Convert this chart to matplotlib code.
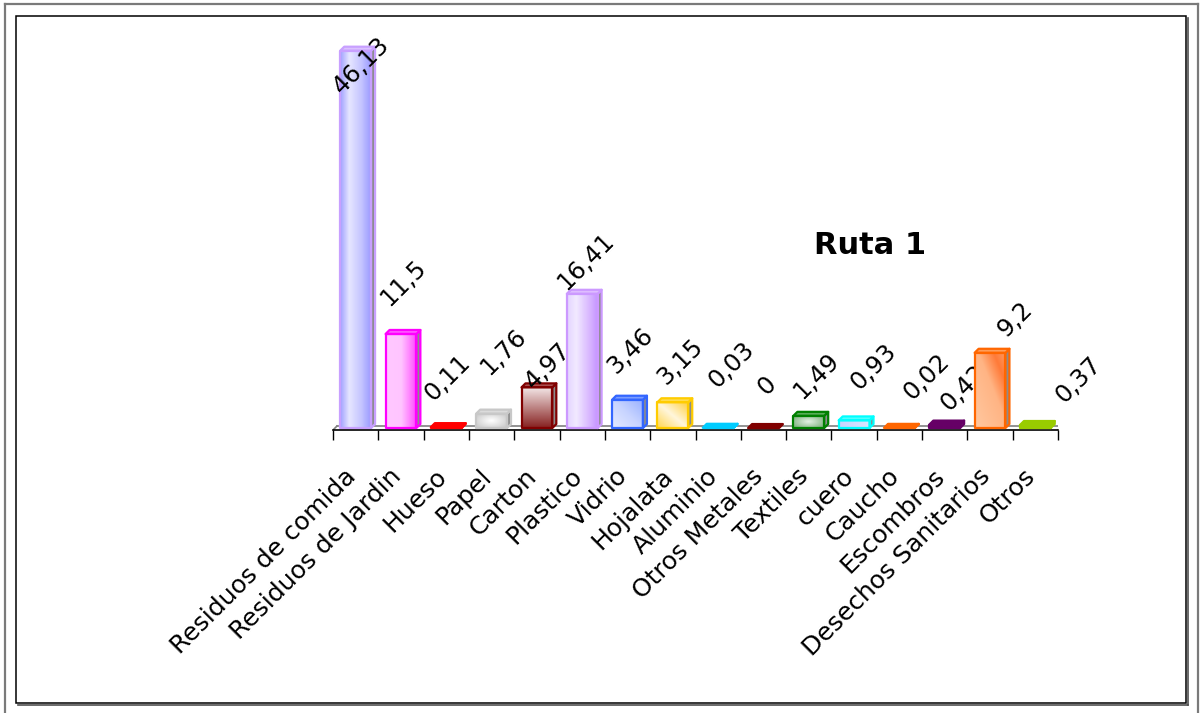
import numpy as np
import matplotlib
matplotlib.use("Agg")
import matplotlib.pyplot as plt
from matplotlib.patches import Rectangle, Polygon
from matplotlib.colors import LinearSegmentedColormap, to_rgb
from matplotlib.lines import Line2D

# ---- data -------------------------------------------------------------
categories = ["Residuos de comida", "Residuos de Jardin", "Hueso", "Papel", "Carton",
              "Plastico", "Vidrio", "Hojalata", "Aluminio", "Otros Metales", "Textiles",
              "cuero", "Caucho", "Escombros", "Desechos Sanitarios", "Otros"]
values = [46.13, 11.5, 0.11, 1.76, 4.97, 16.41, 3.46, 3.15,
          0.03, 0, 1.49, 0.93, 0.02, 0.42, 9.2, 0.37]
title = "Ruta 1"

# ---- styles -----------------------------------------------------------
edge_colors = ["#C8A0FF", "#FF00FF", "#FF0000", "#C8C8C8", "#800000", "#CC99FF",
               "#3366FF", "#FFCC00", "#00CCFF", "#800000", "#008000", "#00FFFF",
               "#FF6600", "#660066", "#FF6600", "#99CC00"]
# gradient kind and colour stops for each front face
fills = [
    ("h", [(0, "#A0A0FF"), (0.3, "#E6E6FF"), (0.7, "#C4C4FF"), (1, "#9C9CFF")]),
    ("h", [(0, "#FFC8FF"), (0.5, "#FFC4FF"), (0.85, "#FF70FF"), (1, "#FF40FF")]),
    ("flat", [(0, "#FF0000"), (1, "#FF0000")]),
    ("c", [(0, "#FFFFFF"), (1, "#C4C4C4")]),
    ("v", [(0, "#F4E8E8"), (1, "#86201F")]),
    ("h", [(0, "#E4D4FF"), (0.3, "#F2EAFF"), (0.8, "#D4AEFF"), (1, "#C494FF")]),
    ("d", [(0, "#E4EAFF"), (0.5, "#C8D4FF"), (1, "#98B0FF")]),
    ("d", [(0, "#FFD650"), (0.5, "#FFF6DC"), (1, "#FFD040")]),
    ("flat", [(0, "#00CCFF"), (1, "#00CCFF")]),
    ("flat", [(0, "#800000"), (1, "#800000")]),
    ("c", [(0, "#E4F2E4"), (1, "#70A870")]),
    ("h", [(0, "#C8D4FF"), (1, "#D8E6FF")]),
    ("flat", [(0, "#FF6600"), (1, "#FF6600")]),
    ("flat", [(0, "#660066"), (1, "#660066")]),
    ("d", [(0, "#FFC8A0"), (0.55, "#FFB484"), (0.8, "#FF7A38"), (1, "#FF9A60")]),
    ("flat", [(0, "#99CC00"), (1, "#99CC00")]),
]
# value-label offsets (pixels) from the top centre of each column
label_nudge = [(6, -15), (2, 51), (1, 49), (12, 62), (11, 22), (4, 32), (3, 49), (7, 40),
               (13, 63), (3, 42), (8, 40), (19, 54), (27, 51), (19, 37), (25, 34), (43, 45)]

W, H = 1200, 713
fig = plt.figure(figsize=(W / 100, H / 100), dpi=100)
fig.patch.set_facecolor("white")

# plot area in pixels
ax_left, ax_right, ax_bottom, ax_top = 333, 1058, 430, 30
ax = fig.add_axes([ax_left / W, 1 - ax_bottom / H,
                   (ax_right - ax_left) / W, (ax_bottom - ax_top) / H])
ax.set_autoscale_on(False)
ax.patch.set_alpha(0)

n = len(categories)
ymin, ymax = -0.24, 48.66
ax.set_xlim(-0.5, n - 0.5)
ax.set_ylim(ymin, ymax)
px_x = (ax_right - ax_left) / n
px_y = (ax_bottom - ax_top) / (ymax - ymin)
ddx, ddy = 4 / px_x, 4 / px_y   # depth of the 3-D columns
half = 0.34


def mix(c, t):
    r = np.array(to_rgb(c))
    return tuple(r + (1 - r) * t)


def gradient(kind, stops, nx=64, ny=256):
    cmap = LinearSegmentedColormap.from_list("g", stops)
    u = np.linspace(0, 1, nx)[None, :]
    w = np.linspace(0, 1, ny)[:, None]
    if kind == "h":
        s = u + 0 * w
    elif kind == "v":
        s = w + 0 * u
    elif kind == "d":
        s = (u + (1 - w)) / 2
    elif kind == "c":
        s = np.sqrt(((u - 0.5) / 0.5) ** 2 + ((w - 0.5) / 0.5) ** 2) / np.sqrt(2)
    else:
        s = 0 * u + 0 * w
    return cmap(s)[..., :3]


lw = 1.6
for i, (v, ec, (kind, stops)) in enumerate(zip(values, edge_colors, fills)):
    z = 2 + 2 * i
    x0, x1 = i - half, i + half
    if v > 0:
        img = gradient(kind, stops)
        ax.imshow(img, extent=(x0, x1, 0, v), origin="upper", aspect="auto",
                  interpolation="bilinear", zorder=z)
    # right side face
    side = Polygon([(x1, 0), (x1 + ddx, ddy), (x1 + ddx, v + ddy), (x1, v)],
                   closed=True, facecolor="#8C8C8C", edgecolor=ec, lw=lw,
                   joinstyle="round", zorder=z + 0.1)
    ax.add_patch(side)
    # top face
    top_fc = stops[0][1] if kind == "flat" else mix(ec, 0.35)
    topf = Polygon([(x0, v), (x1, v), (x1 + ddx, v + ddy), (x0 + ddx, v + ddy)],
                   closed=True, facecolor=top_fc, edgecolor=ec, lw=lw,
                   joinstyle="round", zorder=z + 0.2)
    ax.add_patch(topf)
    # front face outline
    front = Rectangle((x0, 0), x1 - x0, v, facecolor="none", edgecolor=ec, lw=lw,
                      joinstyle="round", zorder=z + 0.3)
    ax.add_patch(front)
    # value label
    dx, dy = label_nudge[i]
    ax.annotate(f"{v:g}".replace(".", ","), xy=(i, v), xytext=(dx, dy),
                textcoords="offset pixels", rotation=45, rotation_mode="anchor",
                ha="center", va="center", fontsize=17.5, color="black",
                zorder=z + 1, annotation_clip=False)

# floor of the 3-D plot
ax.add_line(Line2D([-0.5 + ddx, n - 0.5 + ddx], [ddy + ymin, ddy + ymin],
                   color="#808080", lw=1.2, zorder=1))
for xe in (-0.5, n - 0.5):
    ax.add_line(Line2D([xe, xe + ddx], [ymin, ymin + ddy], color="#808080",
                       lw=1.2, zorder=1))

# axes styling
for s in ("top", "right", "left"):
    ax.spines[s].set_visible(False)
ax.spines["bottom"].set_color("black")
ax.spines["bottom"].set_linewidth(1.2)
ax.set_yticks([])
ax.set_xticks(np.arange(-0.5, n, 1.0))
ax.set_xticklabels([])
ax.tick_params(axis="x", direction="out", length=7, width=1.0, color="black")

for i, cat in enumerate(categories):
    ax.annotate(cat, xy=(i, 0), xycoords=("data", "axes fraction"),
                xytext=(-12, -34), textcoords="offset pixels", rotation=45,
                rotation_mode="anchor", ha="right", va="top", fontsize=18,
                color="black", annotation_clip=False)

fig.text(870 / W, 1 - 246 / H, title, ha="center", va="center",
         fontsize=22, fontweight="bold", color="black")

# chart frames
def fx(p):
    return p / W


def fy(p):
    return 1 - p / H


gray = "#7A7A7A"
fig.add_artist(Line2D([fx(5), fx(5)], [fy(4), fy(H + 5)], color=gray, lw=1.6))
fig.add_artist(Line2D([fx(5), fx(1198)], [fy(4), fy(4)], color=gray, lw=1.6))
fig.add_artist(Line2D([fx(1198), fx(1198)], [fy(4), fy(H + 5)], color=gray, lw=1.6))
# inner border with a small shadow
fig.add_artist(Line2D([fx(1188), fx(1188)], [fy(18), fy(705)], color="#505050", lw=1.2))
fig.add_artist(Line2D([fx(18), fx(1188)], [fy(705), fy(705)], color="#505050", lw=1.2))
fig.add_artist(Rectangle((fx(16), fy(703)), fx(1186) - fx(16), fy(16) - fy(703),
                         transform=fig.transFigure, facecolor="none",
                         edgecolor="black", lw=1.1))

fig.savefig("out.png", dpi=100)
